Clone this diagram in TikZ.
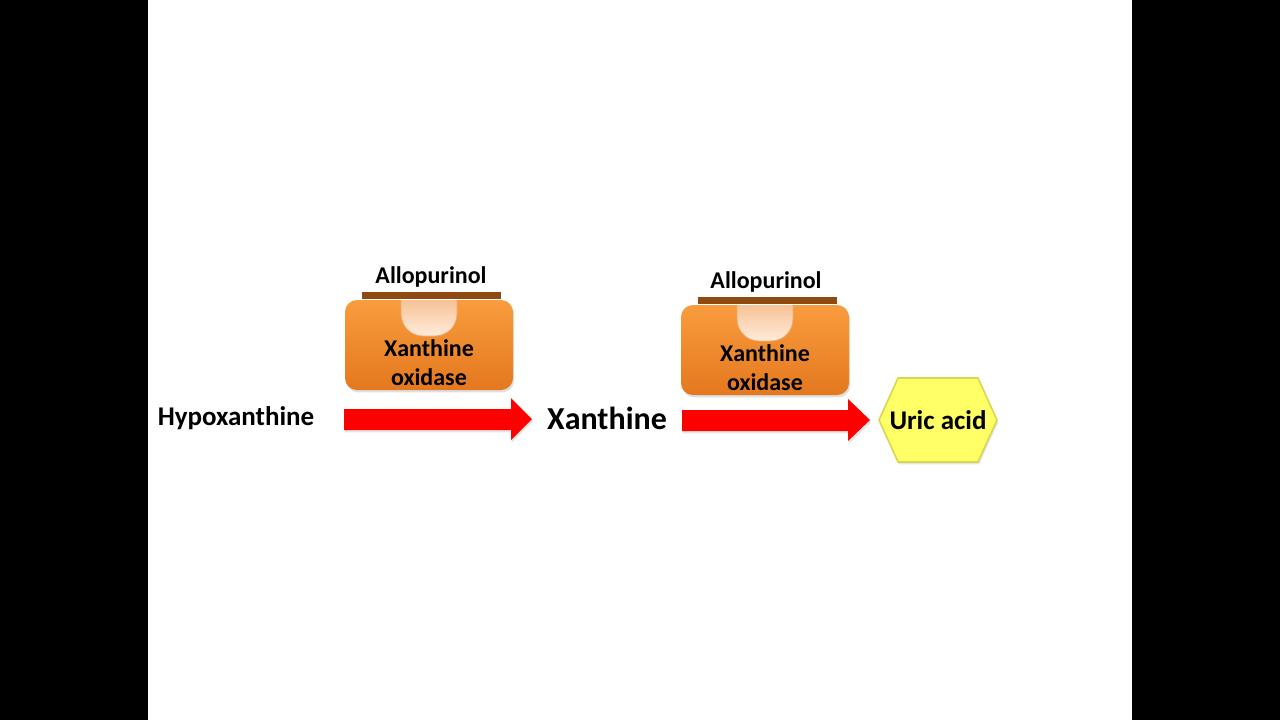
\documentclass[tikz,border=0pt]{standalone}
\usepackage{fontspec}
\setmainfont{Carlito}
\usetikzlibrary{shadows}
\definecolor{orTop}{HTML}{F99C3E}
\definecolor{orBot}{HTML}{E4781E}
\definecolor{barBrown}{HTML}{8E4A10}
\definecolor{peachTop}{HTML}{F7C396}
\definecolor{peachBot}{HTML}{FFEBDB}
\definecolor{peachEdge}{HTML}{F0A868}
\definecolor{hexFill}{HTML}{FFFF66}
\definecolor{hexEdge}{HTML}{D8D850}
\tikzset{
  lbl/.style={font=\bfseries\fontsize{13.5}{15}\selectfont, inner sep=0pt},
  boxlbl/.style={font=\bfseries\fontsize{12}{14}\selectfont, inner sep=0pt},
  bigl/.style={font=\bfseries\fontsize{16}{18}\selectfont, inner sep=0pt},
  enzyme/.style={rounded corners=6pt, top color=orTop, bottom color=orBot,
    drop shadow={opacity=0.25, shadow xshift=0.6pt, shadow yshift=-1.2pt}},
  bar/.style={fill=barBrown},
  bump/.style={top color=peachTop, bottom color=peachBot, draw=peachEdge, line width=0.4pt},
  redarrow/.style={fill=red, drop shadow={opacity=0.2, shadow xshift=0.6pt, shadow yshift=-1.2pt}},
  hexa/.style={fill=hexFill, draw=hexEdge, line width=0.8pt,
    drop shadow={opacity=0.2, shadow xshift=0.6pt, shadow yshift=-1.2pt}}
}
\begin{document}
\begin{tikzpicture}[x=0.5pt,y=-0.5pt]
\useasboundingbox (0,0) rectangle (1280,720);
\fill[black] (0,0) rectangle (1280,720);
\fill[white] (148,0) rectangle (1132,720);

% enzyme 1
\path[enzyme] (345,300) rectangle (513,390);
\fill[bar] (362,292) rectangle (501,298.5);
\path[bump] (401,300) [rounded corners=11pt] -- (401,336) -- (457,336) [sharp corners] -- (457,300);
\node[boxlbl] (x1) at (429,348) {Xanthine};
\node[boxlbl] (o1) at (429,377) {oxidase};
\node[boxlbl] (a1) at (431,277) {Allopurinol};

% enzyme 2
\path[enzyme] (681,305) rectangle (849,395);
\fill[bar] (698,297) rectangle (837,303.5);
\path[bump] (737,305) [rounded corners=11pt] -- (737,341) -- (793,341) [sharp corners] -- (793,305);
\node[boxlbl] (x2) at (765,353) {Xanthine};
\node[boxlbl] (o2) at (765,382) {oxidase};
\node[boxlbl] (a2) at (766,282) {Allopurinol};

% substrates
\node[lbl] (hypo) at (236,418) {Hypoxanthine};
\node[bigl] (xan) at (607,418) {Xanthine};

% arrows
\path[redarrow] (344,409) -- (511,409) -- (511,398) -- (532,419) -- (511,440) -- (511,430) -- (344,430) -- cycle;
\path[redarrow] (682,410) -- (848,410) -- (848,399) -- (870,420) -- (848,441) -- (848,431) -- (682,431) -- cycle;

% hexagon
\path[hexa] (898,378) -- (978,378) -- (997,420) -- (978,462) -- (898,462) -- (879,420) -- cycle;
\node[lbl] (uric) at (938,420) {Uric acid};
\end{tikzpicture}
\end{document}
